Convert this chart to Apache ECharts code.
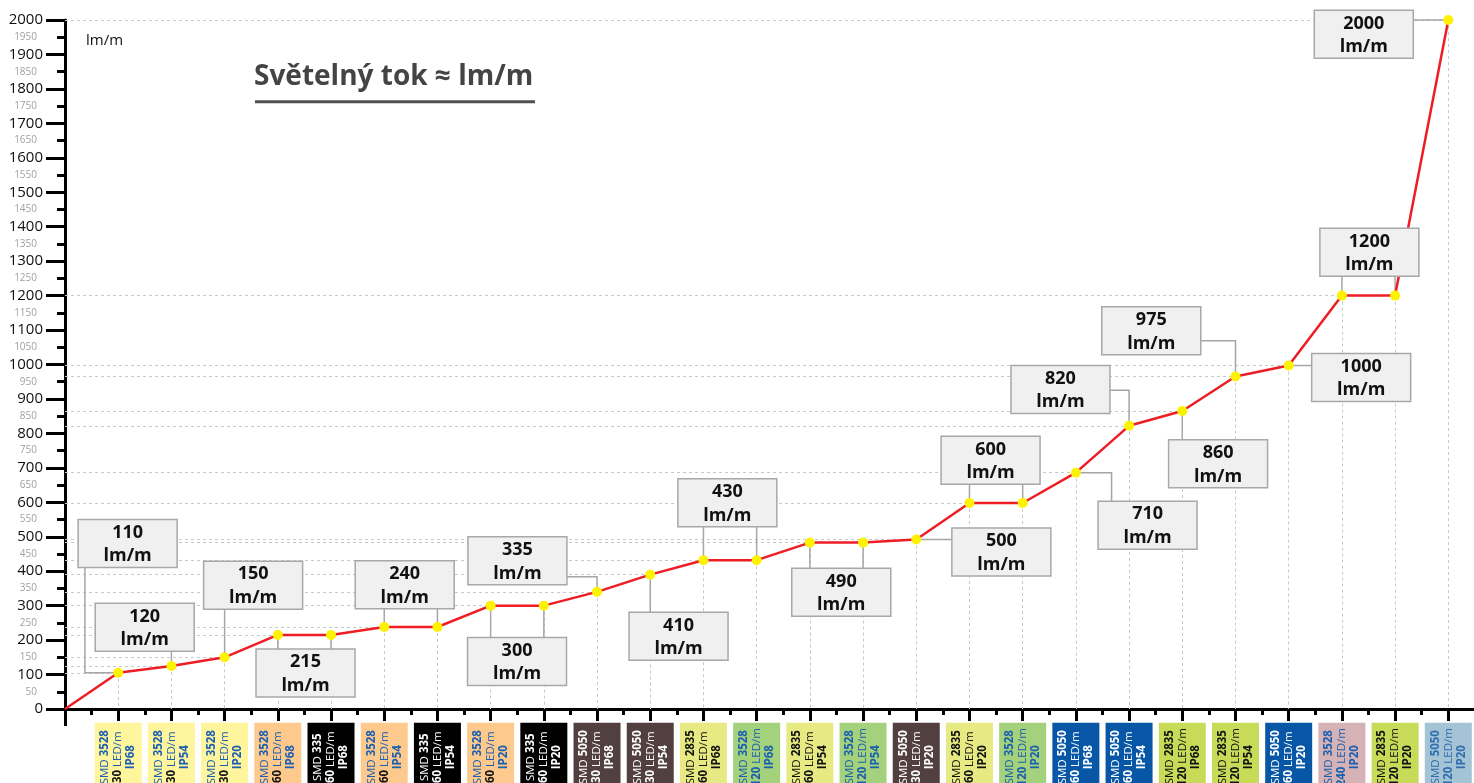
<!DOCTYPE html>
<html>
<head>
<meta charset="utf-8">
<script src="https://cdn.jsdelivr.net/npm/echarts@6/dist/echarts.min.js"></script>
<style>
html,body{margin:0;padding:0;background:#fff;}
#chart{width:1474px;height:783px;}
</style>
</head>
<body>
<div id="chart"></div>
<script>
// ---------------- DATA ----------------
const chipTypes  = ['3528','3528','3528','3528','335','3528','335','3528','335','5050','5050','2835','3528','2835','3528','5050','2835','3528','5050','5050','2835','2835','5050','3528','2835','5050'];
const ledDensity = [30,30,30,60,60,60,60,60,60,30,30,60,120,60,120,30,60,120,60,60,120,120,60,240,120,120];
const ipRatings  = ['IP68','IP54','IP20','IP68','IP68','IP54','IP54','IP20','IP20','IP68','IP54','IP68','IP68','IP54','IP54','IP20','IP20','IP20','IP68','IP54','IP68','IP54','IP20','IP20','IP20','IP20'];
// luminous flux per strip (index 0 = origin of the chart)
const lumenValues = [0,105,125,150,215,215,238,238,300,300,340,390,432,432,483,483,492,598,598,686,822,865,965,997,1200,1200,2000];
// annotation boxes: text and the points they refer to
const annotationTexts  = ['110','120','150','215','240','300','335','410','430','490','500','600','710','820','860','975','1000','1200','2000'];
const annotationPoints = [[1],[2],[3],[4,5],[6,7],[8,9],[10],[11],[12,13],[14,15],[16],[17,18],[19],[20],[21],[22],[23],[24,25],[26]];
const unitText = 'lm/m';
const titleText = 'Světelný tok ≈ lm/m';

// ---------------- STYLE / LAYOUT ----------------
const FONT = '"Open Sans", "DejaVu Sans", sans-serif';
const BOX_W = 99, BOX_H = 48;
// box centre offset (px) from its first point, and connector type
const annotationLayout = [
  {dx: 9.4,  dy: -129.4, link: 'hv', k: -42.7},
  {dx: -26.7,dy: -38.6,  link: 'v'},
  {dx: 28.5, dy: -72.2,  link: 'v'},
  {dx: 27.7, dy: 38,     link: 'v'},
  {dx: 20.5, dy: -42.2,  link: 'v'},
  {dx: 26.4, dy: 55.8,   link: 'v'},
  {dx: -79.6,dy: -31.1,  link: 'vh', k: 16.1},
  {dx: 28.3, dy: 61.6,   link: 'v'},
  {dx: 23.9, dy: -57.5,  link: 'v'},
  {dx: 31.4, dy: 49.7,   link: 'v'},
  {dx: 85.1, dy: 12.5,   link: 'h'},
  {dx: 21.1, dy: -42.7,  link: 'v'},
  {dx: 71.7, dy: 52.5,   link: 'hv', k: -36},
  {dx: -68.6,dy: -36.3,  link: 'vh', k: 0.7},
  {dx: 35.8, dy: 52.7,   link: 'v'},
  {dx: -84.2,dy: -45.7,  link: 'vh', k: 10},
  {dx: 72.5, dy: 11.9,   link: 'h'},
  {dx: 27.5, dy: -43.3,  link: 'v'},
  {dx: -84.5,dy: 14.3,   link: 'h'}
];
const BLUE = '#1a5fb0', BLK = '#111111', WH = '#ffffff';
// category label colours by chip-density group: bg, SMD, chip, density, LED/m, IP
const groupStyles = {
  '3528-30':  {bg:'#fff59c', a:BLUE, b:BLUE, c:BLK, d:BLUE, e:BLUE},
  '3528-60':  {bg:'#fdc98c', a:BLUE, b:BLUE, c:BLK, d:BLUE, e:BLUE},
  '335-60':   {bg:'#000000', a:WH, b:WH, c:WH, d:WH, e:WH},
  '5050-30':  {bg:'#523f3f', a:WH, b:WH, c:WH, d:WH, e:WH},
  '2835-60':  {bg:'#e7ea83', a:BLK, b:BLK, c:BLK, d:BLK, e:BLK},
  '3528-120': {bg:'#a4d17b', a:BLUE, b:BLUE, c:BLUE, d:BLUE, e:BLUE},
  '5050-60':  {bg:'#0757a6', a:WH, b:WH, c:WH, d:WH, e:WH},
  '2835-120': {bg:'#c8db58', a:BLK, b:BLK, c:BLK, d:BLK, e:BLK},
  '3528-240': {bg:'#d5b2b6', a:BLUE, b:BLUE, c:BLUE, d:BLUE, e:BLUE},
  '5050-120': {bg:'#a4c3d5', a:'#2f6fb0', b:'#2f6fb0', c:'#2f6fb0', d:'#2f6fb0', e:'#2f6fb0'}
};
const groupKeys = Object.keys(groupStyles);
const LBL_FS = 11.5, LBL_LH = 13;
const labelRich = {};
groupKeys.forEach((g, gi) => {
  const s = groupStyles[g];
  labelRich['a' + gi] = {color: s.a, fontSize: LBL_FS, fontFamily: FONT, fontWeight: 'normal', lineHeight: LBL_LH, align: 'center'};
  labelRich['b' + gi] = {color: s.b, fontSize: LBL_FS, fontFamily: FONT, fontWeight: 'bold', lineHeight: LBL_LH, align: 'center'};
  labelRich['c' + gi] = {color: s.c, fontSize: LBL_FS, fontFamily: FONT, fontWeight: 'bold', lineHeight: LBL_LH, align: 'center'};
  labelRich['d' + gi] = {color: s.d, fontSize: LBL_FS, fontFamily: FONT, fontWeight: 'normal', lineHeight: LBL_LH, align: 'center'};
  labelRich['e' + gi] = {color: s.e, fontSize: LBL_FS, fontFamily: FONT, fontWeight: 'bold', lineHeight: LBL_LH, align: 'center'};
});

const categories = [''].concat(chipTypes.map((c, i) => 'SMD ' + c + ' ' + ledDensity[i] + ' LED/m ' + ipRatings[i])).concat(['']);
const categoryData = categories.map((name, idx) => {
  if (idx === 0 || idx > chipTypes.length) return name;
  const g = chipTypes[idx - 1] + '-' + ledDensity[idx - 1];
  return {value: name, textStyle: {backgroundColor: groupStyles[g].bg}};
});

function labelFormatter(value, idx) {
  if (idx === 0 || idx > chipTypes.length) return '';
  const i = idx - 1;
  const gi = groupKeys.indexOf(chipTypes[i] + '-' + ledDensity[i]);
  return '{a' + gi + '|SMD }{b' + gi + '|' + chipTypes[i] + '}\n' +
         '{c' + gi + '|' + ledDensity[i] + '}{d' + gi + '| LED/m}\n' +
         '{e' + gi + '|' + ipRatings[i] + '}';
}

// drop lines from each point to both axes
const dropLines = [];
const seen = {};
lumenValues.forEach((v, i) => {
  if (i === 0) return;
  dropLines.push([{coord: [i, v]}, {coord: [i, 0]}]);
  if (!seen[v]) {
    seen[v] = true;
    dropLines.push([{coord: [0, v]}, {coord: [i, v]}]);
  }
});

function boxGeom(i, api) {
  const pts = annotationPoints[i].map(k => api.coord([k, lumenValues[k]]));
  const L = annotationLayout[i];
  const cx = pts[0][0] + L.dx, cy = pts[0][1] + L.dy;
  return {pts, L, cx, cy, x0: cx - BOX_W / 2, y0: cy - BOX_H / 2, x1: cx + BOX_W / 2, y1: cy + BOX_H / 2};
}

function renderConnectors(params, api) {
  const g = boxGeom(params.dataIndex, api);
  const children = g.pts.map(p => {
    let pts;
    const edgeY = p[1] > g.y1 ? g.y1 : g.y0;
    const edgeX = p[0] > g.x1 ? g.x1 : g.x0;
    if (g.L.link === 'v') pts = [p, [p[0], edgeY]];
    else if (g.L.link === 'h') pts = [p, [edgeX, p[1]]];
    else if (g.L.link === 'hv') { const X = g.cx + g.L.k; pts = [p, [X, p[1]], [X, edgeY]]; }
    else { const Y = g.cy + g.L.k; pts = [p, [p[0], Y], [edgeX, Y]]; }
    return {type: 'polyline', shape: {points: pts}, style: {stroke: '#a6a6a6', lineWidth: 1.5, fill: null}};
  });
  return {type: 'group', children};
}

function renderBoxes(params, api) {
  const i = params.dataIndex;
  const g = boxGeom(i, api);
  return {type: 'group', children: [
    {type: 'rect', shape: {x: g.x0, y: g.y0, width: BOX_W, height: BOX_H},
     style: {fill: '#f0f0f0', stroke: '#a8a8a8', lineWidth: 1.5}},
    {type: 'text', style: {text: annotationTexts[i] + '\n' + unitText, x: g.cx, y: g.cy + 1,
      align: 'center', verticalAlign: 'middle', font: 'bold 18px ' + FONT, lineHeight: 23.7, fill: '#111'}}
  ]};
}

const annoData = annotationPoints.map(p => [p[0], lumenValues[p[0]]]);

const chart = echarts.init(document.getElementById('chart'), null, {renderer: 'canvas'});
chart.setOption({
  animation: false,
  backgroundColor: '#ffffff',
  textStyle: {fontFamily: FONT},
  grid: {left: 65, top: 20, bottom: 74, right: -27.5, containLabel: false, outerBoundsMode: 'none'},
  xAxis: [
    {
      type: 'category', data: categoryData, boundaryGap: false, position: 'bottom',
      axisLine: {onZero: false, lineStyle: {color: '#000', width: 3}},
      axisTick: {length: 12, interval: 0, lineStyle: {color: '#000', width: 3}},
      axisLabel: {interval: 0, rotate: 90, margin: 13.7,
        width: 59, padding: [4, 5, 4, 5], lineHeight: LBL_LH, fontFamily: FONT, fontSize: LBL_FS,
        formatter: labelFormatter, rich: labelRich, hideOverlap: false},
      splitLine: {show: false}
    },
    {
      type: 'value', min: 0, max: categories.length - 1, interval: 0.5, position: 'bottom',
      axisLine: {show: false, onZero: false}, axisLabel: {show: false}, splitLine: {show: false},
      axisTick: {show: true, length: 6, lineStyle: {color: '#000', width: 3}}
    },
    {
      type: 'value', min: 0, max: categories.length - 1, interval: categories.length - 1, position: 'bottom',
      axisLine: {show: false, onZero: false}, axisLabel: {show: false}, splitLine: {show: false},
      axisTick: {show: true, length: 17, lineStyle: {color: '#000', width: 3}}
    }
  ],
  yAxis: [
    {
      type: 'value', min: 0, max: 2000, interval: 100, position: 'left',
      axisLine: {show: true, lineStyle: {color: '#000', width: 3}},
      axisTick: {show: true, length: 19, lineStyle: {color: '#000', width: 3}},
      minorTick: {show: true, splitNumber: 2, length: 8, lineStyle: {color: '#000', width: 3}},
      axisLabel: {margin: 22, fontSize: 15, color: '#111', fontFamily: FONT, padding: [6, 0, 0, 0],
        formatter: v => String(v)},
      splitLine: {show: false}, minorSplitLine: {show: false}
    },
    {
      type: 'value', min: 0, max: 2000, interval: 50, position: 'left',
      axisLine: {show: false}, axisTick: {show: false}, splitLine: {show: false},
      axisLabel: {margin: 28, fontSize: 10, color: '#a0a0a0', fontFamily: FONT, padding: [4, 0, 0, 0],
        formatter: v => (v % 100 !== 0 ? String(v) : '')}
    }
  ],
  graphic: [
    {type: 'text', x: 254, y: 77, style: {text: titleText, font: 'bold 28px ' + FONT, fill: '#444444', align: 'left', verticalAlign: 'middle'}},
    {type: 'line', shape: {x1: 255, y1: 101.7, x2: 535, y2: 101.7}, style: {stroke: '#505050', lineWidth: 3}},
    {type: 'text', x: 86, y: 41, style: {text: unitText, font: '15px ' + FONT, fill: '#111', align: 'left', verticalAlign: 'middle'}}
  ],
  series: [
    {
      type: 'line', xAxisIndex: 0, yAxisIndex: 0, z: 3, clip: false,
      data: lumenValues.map((v, i) => i === 0 ? {value: v, symbol: 'none'} : v),
      symbol: 'circle', symbolSize: 10,
      itemStyle: {color: '#fff200'},
      lineStyle: {color: '#ee1d24', width: 2.5},
      markLine: {silent: true, z: 1, symbol: 'none', animation: false,
        label: {show: false},
        lineStyle: {color: '#c8c8c8', width: 1, type: [3, 3]},
        data: dropLines}
    },
    {
      type: 'custom', xAxisIndex: 0, yAxisIndex: 0, z: 2, clip: false, silent: true,
      renderItem: renderConnectors, data: annoData
    },
    {
      type: 'custom', xAxisIndex: 0, yAxisIndex: 0, z: 4, clip: false, silent: true,
      renderItem: renderBoxes, data: annoData
    }
  ]
});
</script>
</body>
</html>
